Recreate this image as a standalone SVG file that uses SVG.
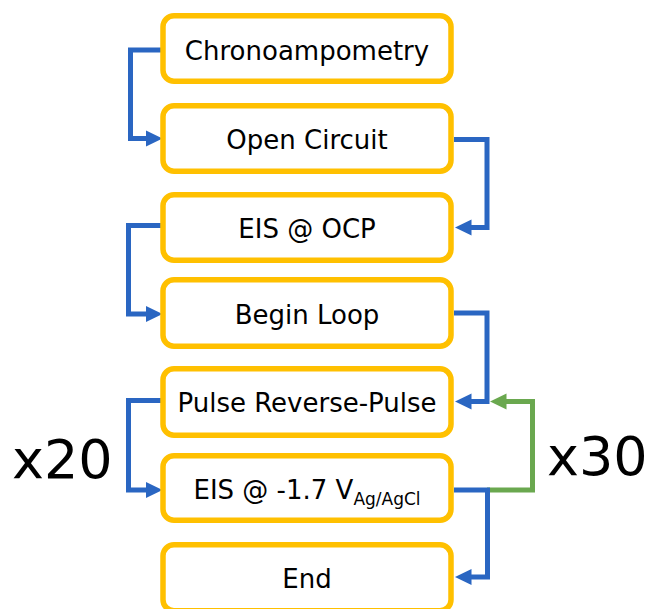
<svg xmlns="http://www.w3.org/2000/svg" width="651" height="609" viewBox="0 0 651 609">
  <style>
    .box { fill: #FFFFFF; stroke: #FFC000; stroke-width: 5.5; }
    .lbl { font-family: "DejaVu Sans", "Liberation Sans", sans-serif; font-size: 26px; fill: #000000; text-anchor: middle; }
    .big { font-family: "DejaVu Sans", "Liberation Sans", sans-serif; font-size: 54px; fill: #000000; }
    .blue { fill: none; stroke: #2A66C2; stroke-width: 5; stroke-linejoin: miter; }
    .green { fill: none; stroke: #6AA84F; stroke-width: 5; stroke-linejoin: miter; }
    .ahb { fill: #2A66C2; }
    .ahg { fill: #6AA84F; }
  </style>
  <rect width="651" height="609" fill="#FFFFFF"/>

  <g id="connectors">
    <!-- Chronoampometry -> Open Circuit -->
    <polyline class="blue" points="161,50 130.5,50 130.5,138.5 147,138.5"/>
    <polygon class="ahb" points="162.5,138.5 146,130.5 146,146.5"/>
    <!-- Open Circuit -> EIS @ OCP -->
    <polyline class="blue" points="454,139.5 487,139.5 487,227.5 471,227.5"/>
    <polygon class="ahb" points="455,227.5 471.5,219.5 471.5,235.5"/>
    <!-- EIS @ OCP -> Begin Loop -->
    <polyline class="blue" points="161,225.5 128.5,225.5 128.5,314 147,314"/>
    <polygon class="ahb" points="162.5,314 146,306 146,322"/>
    <!-- Begin Loop -> Pulse Reverse-Pulse -->
    <polyline class="blue" points="454,313 487,313 487,401.5 471,401.5"/>
    <polygon class="ahb" points="455,401.5 471.5,393.5 471.5,409.5"/>
    <!-- Pulse Reverse-Pulse -> EIS @ -1.7 -->
    <polyline class="blue" points="161,400.5 128.5,400.5 128.5,490 147,490"/>
    <polygon class="ahb" points="162.5,490 146,482 146,498"/>
    <!-- loop back x30 -->
    <polyline class="green" points="487,490 532.5,490 532.5,401.5 506,401.5"/>
    <polygon class="ahg" points="490,401.5 506.5,393.5 506.5,409.5"/>
    <!-- EIS @ -1.7 -> End -->
    <polyline class="blue" points="454,490 487.5,490 487.5,577 471,577"/>
    <polygon class="ahb" points="455,577 471.5,569 471.5,585"/>
  </g>

  <g id="node-chronoampometry">
    <rect class="box" x="163" y="15.75" width="288" height="65.5" rx="11"/>
    <text class="lbl" x="307" y="60">Chronoampometry</text>
  </g>
  <g id="node-open-circuit">
    <rect class="box" x="163" y="105.75" width="288" height="65.5" rx="11"/>
    <text class="lbl" x="307" y="149">Open Circuit</text>
  </g>
  <g id="node-eis-ocp">
    <rect class="box" x="163" y="194.75" width="288" height="65.5" rx="11"/>
    <text class="lbl" x="307" y="238">EIS @ OCP</text>
  </g>
  <g id="node-begin-loop">
    <rect class="box" x="163" y="279.75" width="288" height="66.5" rx="11"/>
    <text class="lbl" x="307" y="324">Begin Loop</text>
  </g>
  <g id="node-pulse">
    <rect class="box" x="163" y="368.75" width="288" height="66.5" rx="11"/>
    <text class="lbl" x="307" y="412">Pulse Reverse-Pulse</text>
  </g>
  <g id="node-eis-17">
    <rect class="box" x="163" y="455.75" width="288" height="64.5" rx="11"/>
    <text class="lbl" x="307" y="499">EIS @ -1.7 V<tspan font-size="17" dy="6">Ag/AgCl</tspan></text>
  </g>
  <g id="node-end">
    <rect class="box" x="163" y="544.75" width="288" height="66" rx="11"/>
    <text class="lbl" x="307" y="588">End</text>
  </g>

  <text class="big" x="12" y="478">x20</text>
  <text class="big" x="547" y="475">x30</text>
</svg>
